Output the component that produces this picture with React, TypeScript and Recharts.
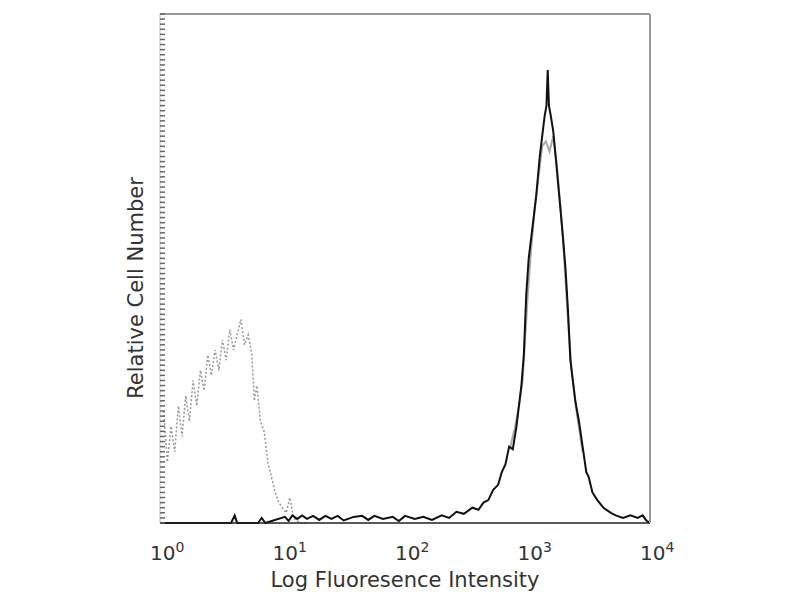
import { LineChart, Line, XAxis, YAxis, Label } from "recharts";

// x positions are in decades (log10 of fluorescence), y is relative cell count
const stainedX = [0, 0.58, 0.61, 0.63, 0.65, 0.8, 0.83, 0.86, 1.02, 1.05, 1.08, 1.12, 1.16, 1.2, 1.25, 1.3, 1.35, 1.4, 1.45, 1.5, 1.58, 1.65, 1.7, 1.75, 1.82, 1.9, 1.95, 2.0, 2.08, 2.15, 2.22, 2.3, 2.36, 2.42, 2.48, 2.55, 2.6, 2.64, 2.68, 2.72, 2.76, 2.79, 2.82, 2.85, 2.88, 2.91, 2.93, 2.95, 2.97, 2.99, 3.01, 3.04, 3.07, 3.1, 3.12, 3.14, 3.155, 3.165, 3.175, 3.19, 3.21, 3.23, 3.26, 3.29, 3.31, 3.33, 3.35, 3.37, 3.39, 3.42, 3.45, 3.48, 3.5, 3.53, 3.57, 3.62, 3.68, 3.72, 3.78, 3.84, 3.9, 3.94, 3.97, 4.0];
const stainedY = [0, 0, 1.5, 0, 0, 0, 1, 0, 1.2, 0.4, 1.5, 0.8, 1.5, 0.8, 1.4, 0.6, 1.4, 0.8, 1.4, 0.5, 1.2, 1.4, 0.6, 1.4, 0.8, 1.2, 0.4, 1.4, 0.8, 1.2, 0.6, 1.5, 1, 2.2, 1.8, 3, 2.6, 4, 4.5, 6.5, 7.5, 10, 11.5, 15, 14.5, 19, 23, 27, 33, 45, 52, 58, 64, 72, 76, 80, 82, 89, 82, 80, 77, 72, 64, 56, 50, 42, 32, 28, 24, 20, 15, 10, 9, 6, 4.5, 3, 2, 1.5, 1, 1.5, 1, 1.5, 0.5, 0];

const replicateX = [2.86, 2.9, 2.93, 2.96, 2.98, 3.0, 3.03, 3.06, 3.09, 3.12, 3.15, 3.18, 3.21, 3.24, 3.27, 3.3, 3.33, 3.36, 3.4, 3.45];
const replicateY = [15, 19, 23, 28, 36, 44, 54, 62, 68, 74, 75, 73, 76, 70, 62, 52, 40, 30, 22, 14];

const isotypeX = [0.03, 0.06, 0.09, 0.12, 0.15, 0.18, 0.21, 0.24, 0.27, 0.3, 0.33, 0.36, 0.39, 0.42, 0.45, 0.48, 0.51, 0.54, 0.57, 0.6, 0.63, 0.66, 0.69, 0.72, 0.75, 0.77, 0.79, 0.82, 0.85, 0.88, 0.91, 0.94, 0.97, 1.0, 1.03, 1.06, 1.09, 1.14, 1.2];
const isotypeY = [22, 12, 19, 14, 23, 17, 25, 20, 28, 23, 30, 26, 33, 29, 34, 30, 36, 32, 38, 34, 37, 40, 35, 37, 33, 24, 27, 20, 18, 12, 9, 6, 4, 3, 2, 5, 1, 0, 0];

const decadeTicks = [0, 1, 2, 3, 4];
const countTicks = Array.from({ length: 101 }, (_, i) => i);

const toRows = (xs: number[], ys: number[]) => xs.map((x, i) => ({ x, y: ys[i] }));

const FONT = "'DejaVu Sans', Verdana, sans-serif";

function DecadeTick({ x, y, payload }: any) {
  return (
    <text x={x - 10} y={y + 35} fontFamily={FONT} fontSize={20} fill="#333">
      <tspan>10</tspan>
      <tspan dy={-8} fontSize={14}>{payload.value}</tspan>
    </text>
  );
}

const NoTick = () => <g />;

export default function App() {
  return (
    <div style={{ position: "absolute", left: 0, top: 0, background: "#fff" }}>
      <LineChart width={800} height={600} margin={{ top: 13, right: 149, bottom: 7, left: 160 }}>
        <XAxis
          dataKey="x" type="number" domain={[0, 4]} ticks={decadeTicks} allowDataOverflow
          height={70} tickSize={0} tickLine={false} axisLine={{ stroke: "#222", strokeWidth: 1.5 }}
          tick={<DecadeTick />}
        >
          <Label value="Log Fluoresence Intensity" position="insideBottom" offset={6}
            fontSize={21} fontFamily={FONT} fill="#333" />
        </XAxis>
        <XAxis xAxisId="top" orientation="top" type="number" dataKey="x" domain={[0, 4]} height={1}
          tickLine={false} tick={NoTick} axisLine={{ stroke: "#999", strokeWidth: 2 }} />
        <YAxis
          type="number" domain={[0, 100]} ticks={countTicks} interval={0} mirror width={1} tickSize={5}
          tickLine={{ stroke: "#666", strokeWidth: 1.5 }} axisLine={{ stroke: "#bbb" }} tick={NoTick}
        />
        <YAxis yAxisId="right" orientation="right" type="number" domain={[0, 100]} width={1}
          tickLine={false} tick={NoTick} axisLine={{ stroke: "#999", strokeWidth: 2 }} />
        <Line data={toRows(isotypeX, isotypeY)} dataKey="y" stroke="#999" strokeWidth={1.5}
          strokeDasharray="2 2" dot={false} isAnimationActive={false} />
        <Line data={toRows(replicateX, replicateY)} dataKey="y" stroke="#aaa" strokeWidth={2}
          dot={false} isAnimationActive={false} />
        <Line data={toRows(stainedX, stainedY)} dataKey="y" stroke="#111" strokeWidth={2}
          dot={false} isAnimationActive={false} />
        <text x={143} y={288} transform="rotate(-90 143 288)" textAnchor="middle"
          fontFamily={FONT} fontSize={21} fill="#333">Relative Cell Number</text>
      </LineChart>
    </div>
  );
}
